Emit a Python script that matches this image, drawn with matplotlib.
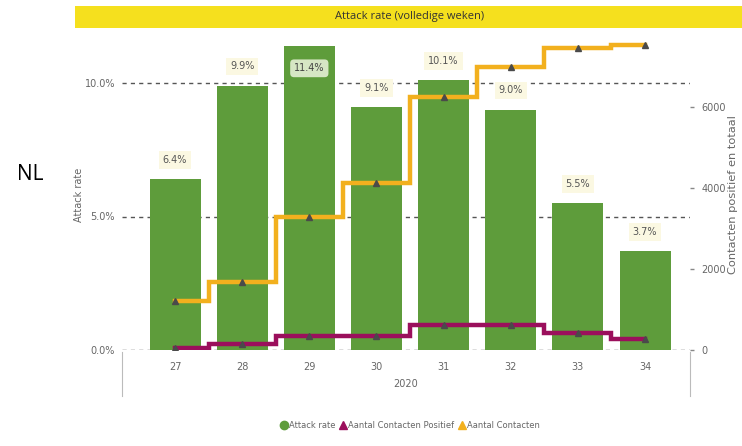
import matplotlib
matplotlib.use("Agg")
import matplotlib.pyplot as plt
from matplotlib.patches import Rectangle
from matplotlib.lines import Line2D

weeks = ["27", "28", "29", "30", "31", "32", "33", "34"]
year_label = "2020"
attack_rate = [6.4, 9.9, 11.4, 9.1, 10.1, 9.0, 5.5, 3.7]
contacten_positief = [50, 150, 345, 350, 620, 620, 420, 270]
contacten_totaal = [1210, 1680, 3280, 4120, 6250, 6990, 7460, 7530]
left_ticks = [0.0, 5.0, 10.0]
right_ticks = [0, 2000, 4000, 6000]

GREEN = "#5E9C3B"
ORANGE = "#F2B01E"
MAGENTA = "#9B0F5C"
MARKER = "#4A4A4A"
GREY = "#666666"

fig = plt.figure(figsize=(7.42, 4.46), dpi=100)
W, H = 742, 446

def fx(px):
    return px / W

def fy(py):
    return 1 - py / H

# title bar
fig.patches.append(Rectangle((fx(75), fy(28)), fx(742) - fx(75), fy(6) - fy(28),
                             transform=fig.transFigure, facecolor="#F5E01E",
                             edgecolor="none", zorder=0))
fig.text(fx(410), fy(17), "Attack rate (volledige weken)", ha="center",
         va="center", fontsize=8, color="#333333", fontfamily="Open Sans")

fig.text(fx(30), fy(175), "NL", ha="center", va="center", fontsize=15,
         color="black", fontfamily="Open Sans")

ax = fig.add_axes([fx(122), fy(350), fx(690) - fx(122), fy(40) - fy(350)])
ax2 = ax.twinx()

x = list(range(len(weeks)))
ax.bar(x, attack_rate, width=0.76, color=GREEN, zorder=2)
ax.set_xlim(-0.79, 7.67)
ax.set_ylim(0, 310 / 26.7)
ax.set_yticks(left_ticks)
ax.set_yticklabels([f"{v:.1f}%" for v in left_ticks], fontsize=7, color=GREY)
for v in left_ticks:
    ax.axhline(v, color="#555555", lw=1.0, ls=(0, (3, 3)), zorder=1)
ax.tick_params(axis="y", length=0, pad=5)
ax.set_xticks(x)
ax.set_xticklabels(weeks, fontsize=7, color=GREY)
ax.tick_params(axis="x", length=0, pad=9)
for s in ax.spines.values():
    s.set_visible(False)
for s in ax2.spines.values():
    s.set_visible(False)
ax.set_ylabel("Attack rate", fontsize=7, color=GREY)
ax.yaxis.set_label_coords((84 - 122) / 568, 0.5)

# data labels
for i, v in enumerate(attack_rate):
    if i == 2:
        ax.text(i, v - 0.85, f"{v:.1f}%", ha="center", va="center", fontsize=7,
                color="#444444", zorder=5,
                bbox=dict(boxstyle="round,pad=0.4", fc="#D6E6C4", ec="none"))
    else:
        ax.text(i, v + 0.72, f"{v:.1f}%", ha="center", va="center", fontsize=7,
                color="#555555", zorder=5,
                bbox=dict(boxstyle="square,pad=0.4", fc="#FBF8E2", ec="none"))

# lines
ax2.plot(x, contacten_totaal, drawstyle="steps-mid", color=ORANGE, lw=3.2,
         zorder=3, solid_joinstyle="miter")
ax2.plot(x, contacten_positief, drawstyle="steps-mid", color=MAGENTA, lw=3.2,
         zorder=3, solid_joinstyle="miter")
ax2.plot(x, contacten_totaal, ls="none", marker="^", ms=5, color=MARKER, zorder=4)
ax2.plot(x, contacten_positief, ls="none", marker="^", ms=5, color=MARKER, zorder=4)
ax2.set_ylim(0, 310 / 40.5 * 1000)
ax2.set_yticks(right_ticks)
ax2.set_yticklabels([str(v) for v in right_ticks], fontsize=7, color=GREY)
ax2.tick_params(axis="y", length=3, width=1, color="#888888", pad=5)
ax2.set_ylabel("Contacten positief en totaal", fontsize=8.2, color=GREY,
               rotation=90, va="center")
ax2.yaxis.set_label_coords((733 - 122) / 568, 0.5)
ax.set_zorder(1)
ax2.set_zorder(2)
ax2.patch.set_visible(False)

# category hierarchy separators
for xp in [122, 690]:
    fig.add_artist(Line2D([fx(xp), fx(xp)], [fy(352), fy(396)], color="#BBBBBB",
                          lw=0.8, transform=fig.transFigure))
fig.text((fx(122) + fx(690)) / 2, fy(384), year_label, ha="center", va="center",
         fontsize=7, color=GREY)

# legend
handles = [
    Line2D([], [], ls="none", marker="o", ms=6, color=GREEN),
    Line2D([], [], ls="none", marker="^", ms=6, color=MAGENTA),
    Line2D([], [], ls="none", marker="^", ms=6, color=ORANGE),
]
labels = ["Attack rate", "Aantal Contacten Positief", "Aantal Contacten"]
fig.legend(handles, labels, loc="center", bbox_to_anchor=(fx(410), fy(425)),
           ncol=3, frameon=False, fontsize=6, handletextpad=0.1,
           columnspacing=0.4, handlelength=1.0, labelcolor=GREY)

fig.savefig("out.png", dpi=100)
